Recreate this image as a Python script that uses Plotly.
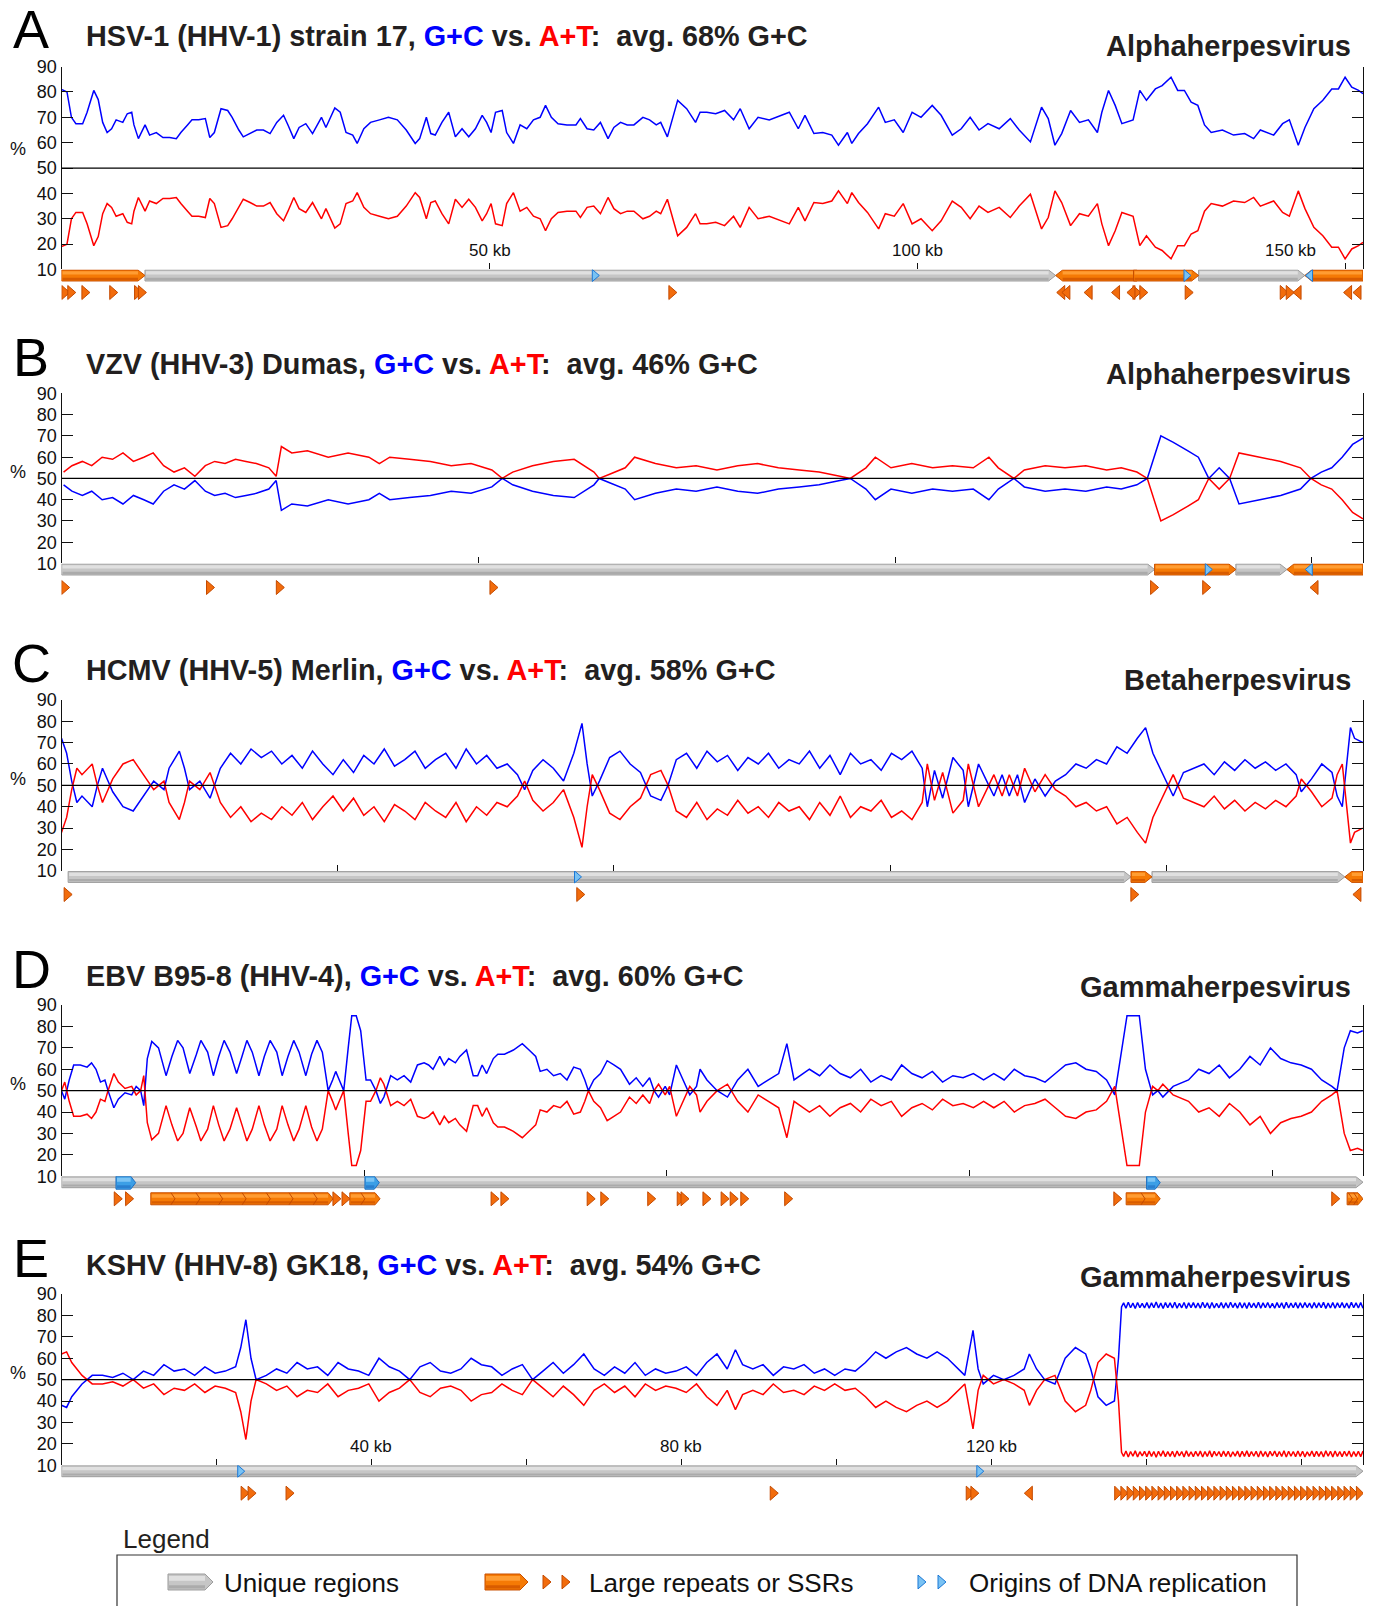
import plotly.graph_objects as go

# ======================= DATA =======================
# Genome lengths (kb)
A_LEN, B_LEN, C_LEN, D_LEN, E_LEN = 152.0, 124.9, 235.6, 172.0, 168.0

# ---- A: HSV-1 strain 17 (G+C %, sliding window) ----
A_pos = [0, 0.64, 1.16, 1.68, 2.47, 2.99, 3.77, 4.29, 4.81, 5.33, 5.85, 6.38, 7.16, 7.68, 8.2, 8.46, 8.98, 9.76,
         10.29, 11.07, 11.85, 12.63, 13.41, 13.94, 14.72, 15.24, 16.02, 16.8, 17.32, 17.85, 18.63, 19.41, 19.93,
         20.71, 21.23, 22.02, 22.8, 23.58, 24.36, 25.14, 25.93, 26.45, 27.13, 27.75, 28.53, 29.32, 30.36, 30.88,
         31.92, 32.55, 33.23, 34.01, 34.53, 35.31, 36.09, 37.14, 38.18, 39.22, 40.26, 41.31, 41.83, 42.61, 43.13,
         43.65, 44.43, 45.22, 46.0, 46.78, 47.56, 48.34, 49.13, 49.65, 50.17, 50.69, 51.47, 51.99, 52.78, 53.56,
         54.34, 55.12, 55.9, 56.53, 57.21, 57.99, 59.03, 60.08, 60.6, 61.38, 62.16, 62.94, 63.83, 64.51, 65.29,
         66.07, 66.85, 67.9, 68.68, 69.46, 69.98, 70.76, 71.96, 73.01, 74.05, 74.58, 75.36, 76.4, 77.44, 78.49,
         79.27, 80.31, 81.35, 82.66, 83.96, 85.0, 86.05, 86.83, 87.87, 88.91, 89.96, 90.74, 91.78, 92.3, 93.08,
         94.13, 95.43, 96.21, 97.26, 98.3, 99.34, 100.38, 101.69, 102.73, 104.03, 105.08, 106.12, 107.16, 108.2,
         109.51, 110.81, 111.85, 113.16, 114.46, 115.24, 116.02, 116.81, 117.85, 118.89, 119.93, 120.98, 121.5,
         122.28, 123.06, 123.84, 125.15, 125.93, 126.71, 127.75, 128.54, 129.58, 130.36, 131.14, 131.93, 132.71,
         133.49, 134.27, 135.58, 136.88, 138.18, 139.23, 140.01, 141.57, 142.61, 143.4, 144.44, 145.22, 146.26,
         147.31, 148.35, 149.13, 149.91, 150.69, 151.48, 152.0]
A_gc = [81, 80, 70, 67.5, 67.5, 72, 80.6, 77, 68, 64, 65.5, 69, 68, 71.4, 72, 67, 61.6, 67,
        63, 64, 62, 62, 61.6, 64, 67, 69, 69, 69.5, 62, 64, 73.4, 72.7, 70,
        65, 62.3, 63.6, 65, 65, 63.6, 68, 70.8, 67, 61.6, 66, 67.5, 63.6, 70, 66,
        73.7, 72, 64, 63, 59.7, 65.5, 68, 69, 70, 69, 65, 59.7, 61.6, 70, 63.6,
        63, 68, 72, 62.3, 65.5, 62.3, 65.5, 70.8, 68, 64, 72, 72.7, 64, 59.7, 67,
        65.5, 69, 70, 74.7, 70, 67.5, 67, 67, 69.5, 65.5, 65, 68, 61.6, 66, 68,
        67, 67, 70, 69, 67, 68, 62.3, 76.7, 73.4, 68, 72, 72, 71.4, 72.7, 69,
        73.4, 65.5, 70, 69, 70.8, 72, 65.5, 70.8, 63.6, 64, 63, 59, 64, 59.7, 63.6,
        67.5, 74, 68, 69, 64, 72, 70, 74.7, 70.8, 63, 65.5, 70, 65, 67.5,
        65.5, 69.5, 65, 60.3, 74, 69.5, 59, 63.6, 72.7, 68, 69, 64, 72,
        80.6, 74.7, 67.5, 69, 80.6, 76.7, 81.2, 82.5, 85.8, 80.6, 80.6, 76, 74.7,
        67, 64, 65, 63, 63.6, 61.6, 65, 63, 67.5, 69, 59, 66, 73.4,
        76.7, 81.2, 81.2, 85.8, 81.9, 80.6, 79.3]

# ---- B: VZV Dumas ----
B_pos = [0.2, 1.0, 2.0, 2.9, 3.9, 4.9, 5.9, 6.9, 7.9, 8.8, 9.8, 10.8, 11.8, 12.8, 13.8, 14.7, 15.7, 16.7, 17.7, 18.7,
         19.9, 20.6, 21.1, 22.1, 23.6, 25.6, 27.5, 29.5, 30.5, 31.5, 33.4, 35.4, 37.4, 39.3, 41.3, 42.3, 43.3, 45.2,
         47.2, 49.2, 51.1, 51.6, 52.6, 54.1, 55.0, 57.0, 59.0, 60.9, 62.9, 64.9, 66.8, 68.8, 70.8, 72.7, 74.7, 75.7,
         77.2, 78.1, 79.6, 81.6, 83.6, 85.5, 87.5, 89.0, 89.9, 91.4, 92.4, 94.4, 96.3, 98.3, 100.3, 101.7, 103.2,
         104.2, 105.5, 106.7, 108.1, 109.1, 110.1, 111.1, 112.1, 113.0, 115.0, 117.0, 118.9, 119.9, 120.9, 121.9,
         122.9, 123.9, 124.9]
B_gc = [47, 44, 42, 44, 40, 41, 38, 42, 40, 38, 44, 47, 45, 49, 44, 42, 43, 41, 42, 43,
        45, 49, 35, 38, 37, 40, 38, 40, 43, 40, 41, 42, 44, 43, 46, 50, 47, 44, 42, 41,
        47, 50, 48, 45, 40, 43, 45, 44, 46, 44, 43, 45, 46, 47, 49, 50, 45, 40, 45, 43,
        45, 44, 45, 40, 45, 50, 46, 44, 45, 44, 46, 45, 47, 50, 70, 67, 63, 60, 50, 55,
        50, 38, 40, 42, 45, 50, 53, 55, 60, 66, 69]

# ---- C: HCMV Merlin ----
C_pos = [0.0, 0.93, 1.85, 2.78, 3.71, 5.56, 6.49, 7.42, 9.27, 11.13, 12.98, 14.84, 16.69, 18.55, 19.47, 21.33, 22.26,
         23.18, 25.04, 26.89, 28.75, 30.6, 32.46, 34.31, 36.17, 38.02, 39.88, 41.73, 43.59, 45.44, 47.3, 49.15,
         51.01, 52.86, 54.72, 56.57, 58.43, 60.28, 62.14, 63.99, 65.84, 67.7, 69.55, 71.41, 73.26, 75.12, 76.97,
         78.83, 80.68, 82.54, 83.84, 85.32, 87.17, 89.03, 90.88, 92.74, 94.22, 95.15, 96.08, 97.38, 99.23, 101.09,
         102.94, 104.8, 106.65, 108.51, 109.8, 111.29, 113.14, 115.0, 116.85, 118.71, 120.56, 122.42, 124.27,
         126.13, 127.98, 129.84, 131.69, 133.54, 135.4, 137.25, 139.11, 140.96, 142.82, 144.67, 146.53, 148.38,
         150.24, 152.09, 153.95, 155.8, 156.73, 158.03, 159.51, 161.37, 163.22, 164.15, 166.0, 167.49, 168.79,
         170.27, 171.57, 173.05, 174.35, 176.21, 178.06, 179.92, 181.77, 183.63, 185.48, 187.34, 189.19, 191.05,
         192.9, 194.75, 196.24, 197.57, 199.39, 201.24, 203.1, 204.95, 206.81, 208.66, 210.52, 212.37, 214.23,
         216.08, 217.94, 219.79, 221.65, 223.5, 224.43, 226.28, 228.14, 229.99, 230.92, 231.85, 233.33, 234.07,
         235.55]
C_gc = [72, 65, 52, 42, 45, 40, 50, 58, 47, 40, 38, 45, 52, 48, 58, 66, 58,
        48, 52, 44, 58, 65, 60, 67, 63, 66, 60, 64, 58, 66, 60, 55,
        62, 56, 64, 60, 67, 59, 62, 66, 58, 62, 65, 58, 67, 60, 64,
        58, 60, 55, 48, 57, 62, 58, 52, 65, 79, 60, 45, 52, 63, 66,
        60, 56, 45, 43, 50, 62, 65, 58, 66, 61, 64, 57, 63,
        60, 65, 58, 62, 60, 66, 58, 64, 55, 65, 60, 62, 57,
        65, 62, 66, 58, 40, 57, 44, 63, 57, 40, 60, 52, 45,
        55, 45, 55, 42, 53, 45, 52, 55, 60, 58, 62, 60, 68,
        65, 72, 77, 65, 55, 45, 56, 58, 60, 55, 61, 57, 62,
        58, 61, 57, 60, 55, 47, 53, 60, 56, 45, 40, 77, 72,
        70]

# ---- D: EBV B95-8 ----
D_pos = [0.0, 0.43, 1.02, 1.61, 2.49, 3.38, 3.97, 4.56, 5.15, 5.74, 6.15, 6.92, 7.51, 8.39, 9.28, 9.87, 10.46, 10.87,
         11.34, 11.93, 12.82, 13.41, 13.82, 14.59, 15.35, 16.06, 16.95, 17.83, 18.42, 19.31, 20.07, 20.78, 21.49,
         22.26, 23.14, 23.85, 24.5, 25.21, 26.09, 26.8, 27.57, 28.45, 29.16, 29.93, 30.69, 31.4, 32.29, 33.05,
         33.76, 34.47, 35.24, 35.83, 36.24, 36.71, 37.3, 37.89, 38.36, 38.95, 39.54, 40.25, 40.84, 41.55, 42.14,
         42.61, 43.5, 44.38, 45.27, 46.15, 47.04, 47.92, 48.51, 49.1, 49.99, 50.58, 51.17, 52.05, 52.64, 53.53,
         54.41, 55.0, 55.59, 56.18, 57.07, 57.66, 58.54, 59.72, 60.9, 61.79, 62.67, 63.26, 64.15, 65.03, 65.92,
         66.8, 67.69, 68.57, 69.16, 69.63, 70.34, 71.23, 72.11, 73.0, 73.88, 75.06, 75.95, 76.83, 77.72, 78.31,
         78.9, 79.78, 80.37, 81.26, 82.14, 83.03, 83.92, 84.39, 85.3, 86.65, 88.01, 89.36, 90.71, 92.07, 93.42,
         94.78, 95.86, 96.81, 98.84, 100.19, 101.55, 102.9, 104.26, 105.61, 106.96, 108.32, 109.67, 111.03,
         112.38, 113.73, 115.09, 116.44, 117.8, 119.15, 120.51, 121.86, 123.21, 124.57, 125.92, 127.28, 128.63,
         129.98, 131.34, 132.69, 134.05, 135.4, 136.75, 138.11, 139.19, 140.14, 140.81, 142.44, 143.25, 144.2,
         144.88, 145.55, 146.91, 148.94, 150.29, 151.65, 153.0, 154.35, 155.71, 157.06, 158.41, 159.77, 161.12,
         162.48, 163.83, 165.19, 166.54, 167.89, 168.57, 169.52, 170.33, 171.28, 171.96]
D_gc = [50, 46, 55, 62, 62, 61, 63, 60, 54, 55, 50, 42, 46, 49, 48, 52, 50, 43,
        65, 73, 70, 62, 57, 66, 73.5, 70, 58, 67, 73.5, 68, 57, 66, 73.5,
        68, 58, 66, 73.5, 68, 57, 66, 73.5, 68, 57, 66, 73.5, 68, 57, 67,
        73.5, 68, 50, 55, 59, 55, 50, 70, 85, 85, 78, 55, 55, 50, 44,
        47, 57, 55, 57, 54, 62, 63, 62, 60, 66, 62, 65, 63, 66, 69,
        57, 57, 62, 58, 65, 67, 67, 69, 72, 69, 66, 59, 60, 57, 58,
        55, 61, 60, 55, 50, 55, 58, 64, 62, 60, 53, 56, 52, 56, 50,
        47, 52, 48, 62, 55, 48, 52, 60, 55, 50, 47, 55, 60, 52, 55,
        58, 72, 55, 60, 57, 62, 58, 56, 60, 54, 57, 55, 62,
        58, 56, 59, 54, 57, 56, 58, 55, 58, 55, 60, 57, 56,
        54, 58, 62, 63, 60, 59, 55, 48, 70, 85, 85, 60, 48,
        50, 47, 52, 55, 60, 58, 62, 56, 60, 66, 62, 70, 65,
        63, 62, 60, 55, 52, 50, 70, 78, 77, 78]

# ---- E: KSHV GK18 (unique region, then terminal repeats) ----
E_pos = [0.0, 0.66, 1.32, 2.65, 3.97, 5.29, 6.61, 7.93, 9.26, 10.58, 11.9, 13.22, 14.54, 15.87, 17.19, 18.51, 19.83,
         21.15, 22.48, 23.14, 23.8, 24.46, 25.12, 26.44, 27.76, 29.09, 30.41, 31.73, 33.05, 34.37, 35.7, 37.02,
         38.34, 39.66, 40.98, 42.31, 43.63, 44.95, 46.27, 47.59, 48.92, 50.24, 51.56, 52.88, 54.2, 55.53, 56.85,
         58.17, 59.49, 60.81, 62.14, 63.46, 64.78, 66.1, 67.42, 68.75, 70.07, 71.39, 72.71, 74.03, 75.36, 76.68,
         78.0, 79.32, 80.64, 81.97, 83.29, 84.61, 85.93, 86.99, 87.92, 89.24, 90.56, 91.88, 93.2, 94.53, 95.85,
         97.17, 98.49, 99.81, 101.14, 102.46, 103.78, 105.1, 106.42, 107.75, 109.07, 110.39, 111.71, 113.03,
         114.36, 115.68, 116.6, 117.66, 118.32, 118.98, 120.3, 121.63, 122.95, 124.27, 124.93, 125.86, 126.91,
         128.24, 129.56, 130.88, 132.2, 132.86, 133.79, 134.85, 135.91, 136.44, 136.83]
E_gc = [38, 37, 42, 48, 52, 52, 51, 53, 50, 54, 52, 57, 54, 55, 52, 56, 53,
        54, 56, 65, 78, 60, 50, 52, 55, 53, 58, 55, 56, 52, 58, 55,
        54, 52, 60, 56, 54, 50, 56, 58, 54, 53, 55, 60, 57, 56, 52,
        55, 57, 50, 54, 58, 53, 57, 62, 55, 52, 56, 53, 58, 52, 55,
        53, 54, 56, 52, 58, 62, 55, 64, 57, 55, 57, 52, 56, 55, 57,
        53, 55, 52, 55, 54, 58, 63, 60, 63, 65, 62, 60, 63,
        60, 55, 52, 73, 55, 48, 52, 50, 52, 55, 62, 55, 50,
        48, 60, 65, 62, 55, 42, 38, 40, 60, 84]
E_TR_pos = [137.1, 137.4, 137.7, 138.0, 138.3, 138.6, 138.9, 139.2, 139.5, 139.8,
            140.1, 140.4, 140.7, 141.0, 141.3, 141.6, 141.9, 142.2, 142.5, 142.8,
            143.1, 143.4, 143.7, 144.0, 144.3, 144.6, 144.9, 145.2, 145.5, 145.8,
            146.1, 146.4, 146.7, 147.0, 147.3, 147.6, 147.9, 148.2, 148.5, 148.8,
            149.1, 149.4, 149.7, 150.0, 150.3, 150.6, 150.9, 151.2, 151.5, 151.8,
            152.1, 152.4, 152.7, 153.0, 153.3, 153.6, 153.9, 154.2, 154.5, 154.8,
            155.1, 155.4, 155.7, 156.0, 156.3, 156.6, 156.9, 157.2, 157.5, 157.8,
            158.1, 158.4, 158.7, 159.0, 159.3, 159.6, 159.9, 160.2, 160.5, 160.8,
            161.1, 161.4, 161.7, 162.0, 162.3, 162.6, 162.9, 163.2, 163.5, 163.8,
            164.1, 164.4, 164.7, 165.0, 165.3, 165.6, 165.9, 166.2, 166.5, 166.8,
            167.1, 167.4, 167.7, 168.0]
E_TR_gc = [85.9, 83.4, 86.2, 83.6, 85.8, 83.3, 86.1, 83.7, 85.7, 83.5,
           86.0, 83.4, 85.9, 83.6, 86.3, 83.5, 85.8, 83.3, 86.0, 83.6,
           85.9, 83.5, 86.2, 83.4, 85.7, 83.6, 86.1, 83.3, 85.9, 83.7,
           86.0, 83.5, 85.8, 83.4, 86.2, 83.6, 85.9, 83.3, 86.1, 83.5,
           85.7, 83.6, 86.0, 83.4, 85.9, 83.5, 86.2, 83.7, 85.8, 83.4,
           86.1, 83.5, 85.9, 83.3, 86.0, 83.6, 85.8, 83.5, 86.2, 83.4,
           85.9, 83.6, 86.1, 83.5, 85.7, 83.4, 86.0, 83.6, 85.9, 83.3,
           86.2, 83.5, 85.8, 83.6, 86.0, 83.4, 85.9, 83.5, 86.1, 83.7,
           85.8, 83.4, 86.0, 83.5, 85.9, 83.6, 86.2, 83.3, 85.8, 83.5,
           86.1, 83.4, 85.9, 83.6, 86.0, 83.5, 85.8, 83.4, 86.2, 83.6,
           85.9, 83.5, 86.0, 83.4]

# ---- axis ticks (kb) ----
A_ticks, A_ticklabels = [50, 100, 150], ["50 kb", "100 kb", "150 kb"]
B_ticks, B_ticklabels = [40, 80, 120], []
C_ticks, C_ticklabels = [50, 100, 150, 200], []
D_ticks, D_ticklabels = [40, 80, 120, 160], []
E_ticks = [20, 40, 60, 80, 100, 120, 140, 160]
E_ticklabels = ["", "40 kb", "", "80 kb", "", "120 kb", "", ""]

# ---- genome maps (kb): (start, end, direction) ----
A_unique = [(9.75, 116.1, "R"), (132.8, 145.2, "R")]
A_repeats = [(0, 9.75, "R"), (116.1, 125.6, "L"), (125.2, 132.8, "R"), (145.2, 152.0, "L")]
A_origins = [(62.4, "R"), (131.5, "R"), (145.7, "L")]
A_ssr_right = [0.5, 1.2, 2.85, 6.1, 9.0, 9.45, 71.4, 125.6, 126.4, 131.7, 142.8, 143.5]
A_ssr_left = [116.7, 117.3, 119.9, 123.1, 124.9, 144.3, 150.2, 151.3]

B_unique = [(0, 104.9, "R"), (112.7, 117.6, "R")]
B_repeats = [(104.9, 112.7, "R"), (117.6, 124.9, "L")]
B_origins = [(110.1, "R"), (119.7, "L")]
B_ssr_right = [0.4, 14.3, 21.0, 41.5, 104.9, 109.9]
B_ssr_left = [120.2]

C_unique = [(1.2, 193.6, "R"), (197.4, 232.3, "R")]
C_repeats = [(193.6, 197.4, "R"), (232.3, 235.6, "L")]
C_origins = [(93.5, "R")]
C_ssr_right = [1.2, 94.0, 194.3]
C_ssr_left = [234.5]

D_unique = [(0, 172.0, "R")]
D_repeats = []
D_origins = []
D_origin_boxes = [(7.2, 9.8), (40.1, 42.0), (143.4, 145.2)]
D_repeat_boxes = [(11.8, 35.9, [15.0, 18.3, 21.3, 24.4, 27.6, 30.6, 33.8]),
                  (38.1, 42.1, [40.1]),
                  (140.7, 145.2, [143.2]),
                  (169.9, 172.0, [170.6, 171.3])]
D_ssr_right = [7.5, 9.0, 36.4, 37.6, 57.3, 58.6, 70.0, 71.8, 78.0, 81.9, 82.4, 85.3, 87.7, 88.9, 90.3, 96.1,
               139.6, 168.4]
D_ssr_left = []

E_unique = [(0, 168.0, "R")]
E_repeats = []
E_origins = [(23.2, "R"), (118.6, "R")]
E_ssr_right = [23.7, 24.6, 29.5, 92.0, 117.3, 117.9]
E_tr_units = [136.4, 137.2, 138.0, 138.8, 139.6, 140.4, 141.2, 142.0, 142.8, 143.6, 144.4, 145.2, 146.0, 146.8,
              147.6, 148.4, 149.2, 150.0, 150.8, 151.6, 152.4, 153.2, 154.0, 154.8, 155.6, 156.4, 157.2, 158.0,
              158.8, 159.6, 160.4, 161.2, 162.0, 162.8, 163.6, 164.4, 165.2, 166.0, 166.8, 167.6]
E_ssr_left = [124.8]

# ---- text ----
letters = ["A", "B", "C", "D", "E"]
names = ["HSV-1 (HHV-1) strain 17", "VZV (HHV-3) Dumas", "HCMV (HHV-5) Merlin",
         "EBV B95-8 (HHV-4)", "KSHV (HHV-8) GK18"]
avgs = [68, 46, 58, 60, 54]
groups = ["Alphaherpesvirus", "Alphaherpesvirus", "Betaherpesvirus", "Gammaherpesvirus", "Gammaherpesvirus"]
legend_labels = ["Unique regions", "Large repeats or SSRs", "Origins of DNA replication"]

# ======================= LAYOUT / STYLE =======================
W, H = 1374, 1606
X0, X1 = 61.5, 1363.0
# vertical calibration of the capture (observed = OFF + SC * layout)
Y_OFF, Y_SC = 10.0, 0.98755
FONT = "Liberation Sans, Arial, Helvetica, sans-serif"
TXT = "#231f20"
PANEL_PX = [(66.6, 269.5), (393.4, 563.5), (699.8, 870.9), (1005.1, 1176.2), (1294.1, 1465.2)]
TRI_OFF = [23, 24, 23.6, 22.6, 28]
LETTER_Y = [28.7, 356.6, 663, 969, 1258]
TITLE_Y = [35.9, 363.7, 670, 976.4, 1265.4]
GROUP_Y = [46, 374, 680, 986.7, 1276.6]
PCT_Y = [148.6, 472, 779, 1084, 1373]

GREY = ("#c6c6c6", "#e0e0e0", "#ababab", "#9c9c9c")
ORANGE = ("#f57a05", "#ff9d33", "#d85c00", "#c84f00")
BLUEBOX = ("#3c9fe6", "#7cc4f4", "#2a7fcf", "#1f6fc0")
TRI_OR = ("#f26c0c", "#c44a00")
TRI_BL = ("#79c2f3", "#1c78d6")


def fx(px):
    return px / W


def fy(py):
    return 1 - ((py - Y_OFF) / Y_SC) / H


def path_str(pts):
    return "M" + " L".join(f"{x:.5f},{y:.5f}" for x, y in pts) + " Z"


def shaded_arrow(shapes, xref, yref, x0, x1, y0, y1, tip, d, pal, eps):
    ym = (y0 + y1) / 2
    if d == "R":
        pts = [(x0, y0), (x1 - tip, y0), (x1, ym), (x1 - tip, y1), (x0, y1)]
        bx0, bx1 = x0 + eps, x1 - tip
    else:
        pts = [(x0 + tip, y0), (x1, y0), (x1, y1), (x0 + tip, y1), (x0, ym)]
        bx0, bx1 = x0 + tip, x1 - eps
    h = y1 - y0
    shapes.append(dict(type="path", xref=xref, yref=yref, path=path_str(pts),
                       fillcolor=pal[0], line=dict(color=pal[3], width=1)))
    if bx1 > bx0:
        shapes.append(dict(type="rect", xref=xref, yref=yref, x0=bx0, x1=bx1, y0=y0 + 0.12 * h, y1=y0 + 0.42 * h,
                           fillcolor=pal[1], line=dict(width=0)))
        shapes.append(dict(type="rect", xref=xref, yref=yref, x0=bx0, x1=bx1, y0=y0 + 0.7 * h, y1=y0 + 0.9 * h,
                           fillcolor=pal[2], line=dict(width=0)))


def triangle(shapes, xref, yref, xc, yc, w, h, d, col):
    if d == "R":
        pts = [(xc - w / 2, yc - h / 2), (xc + w / 2, yc), (xc - w / 2, yc + h / 2)]
    else:
        pts = [(xc + w / 2, yc - h / 2), (xc - w / 2, yc), (xc + w / 2, yc + h / 2)]
    shapes.append(dict(type="path", xref=xref, yref=yref, path=path_str(pts),
                       fillcolor=col[0], line=dict(color=col[1], width=1)))


panels = [
    dict(L=A_LEN, pos=A_pos, gc=A_gc, ticks=A_ticks, tl=A_ticklabels, uni=A_unique, rep=A_repeats,
         ori=A_origins, sr=A_ssr_right, sl=A_ssr_left),
    dict(L=B_LEN, pos=B_pos, gc=B_gc, ticks=B_ticks, tl=B_ticklabels, uni=B_unique, rep=B_repeats,
         ori=B_origins, sr=B_ssr_right, sl=B_ssr_left),
    dict(L=C_LEN, pos=C_pos, gc=C_gc, ticks=C_ticks, tl=C_ticklabels, uni=C_unique, rep=C_repeats,
         ori=C_origins, sr=C_ssr_right, sl=C_ssr_left),
    dict(L=D_LEN, pos=D_pos, gc=D_gc, ticks=D_ticks, tl=D_ticklabels, uni=D_unique, rep=D_repeats,
         ori=D_origins, sr=D_ssr_right, sl=D_ssr_left, oboxes=D_origin_boxes, rboxes=D_repeat_boxes),
    dict(L=E_LEN, pos=E_pos + E_TR_pos, gc=E_gc + E_TR_gc, ticks=E_ticks, tl=E_ticklabels, uni=E_unique,
         rep=E_repeats, ori=E_origins, sr=E_ssr_right, sl=E_ssr_left, tr=E_tr_units),
]

fig = go.Figure()
shapes, annotations, layout_axes = [], [], {}

for i, p in enumerate(panels):
    n = i + 1
    xname = "xaxis" if n == 1 else f"xaxis{n}"
    yname = "yaxis" if n == 1 else f"yaxis{n}"
    xr = "x" if n == 1 else f"x{n}"
    yr = "y" if n == 1 else f"y{n}"
    ymname = f"yaxis{n + 5}"
    ym = f"y{n + 5}"
    top, bot = PANEL_PX[i]
    L = p["L"]
    kbpp = L / (X1 - X0)

    at = [100 - v for v in p["gc"]]
    fig.add_trace(go.Scatter(x=p["pos"], y=p["gc"], mode="lines", line=dict(color="#0000ff", width=1.5),
                             xaxis=xr, yaxis=yr, hoverinfo="skip", showlegend=False))
    fig.add_trace(go.Scatter(x=p["pos"], y=at, mode="lines", line=dict(color="#ff0000", width=1.5),
                             xaxis=xr, yaxis=yr, hoverinfo="skip", showlegend=False))
    fig.add_trace(go.Scatter(x=[0], y=[0], mode="markers", marker=dict(opacity=0), xaxis=xr, yaxis=ym,
                             hoverinfo="skip", showlegend=False))

    layout_axes[xname] = dict(domain=[fx(X0), fx(X1)], range=[0, L], anchor=yr, showline=False, showgrid=False,
                              zeroline=False, ticks="inside", ticklen=6, tickwidth=1, tickcolor="#111",
                              tickvals=p["ticks"], showticklabels=False, fixedrange=True)
    layout_axes[yname] = dict(domain=[fy(bot), fy(top)], range=[10, 90], anchor=xr, showline=True,
                              linecolor="#111", linewidth=1.2, mirror="ticks", ticks="inside", ticklen=11,
                              tickwidth=1, tickcolor="#111", tickvals=[10, 20, 30, 40, 50, 60, 70, 80, 90],
                              showgrid=False, zeroline=False,
                              tickfont=dict(family=FONT, size=18, color="#111"), fixedrange=True)
    layout_axes[ymname] = dict(domain=[fy(bot + 42), fy(bot)], range=[42, 0], anchor=xr, visible=False,
                               fixedrange=True)

    shapes.append(dict(type="line", xref=xr, yref=yr, x0=0, x1=L, y0=50, y1=50, line=dict(color="#000", width=1.3)))

    for t, lab in zip(p["ticks"], p["tl"]):
        if lab:
            last = (t == p["ticks"][-1] and t > 0.95 * L)
            annotations.append(dict(xref=xr, yref=yr, x=t, y=10, yanchor="bottom",
                                    xanchor="right" if last else "center", xshift=-28 if last else 0, yshift=7,
                                    text=lab, showarrow=False, font=dict(family=FONT, size=17, color="#111")))

    # genome map
    tip = 7 * kbpp
    eps = 1.0 * kbpp
    for s, e, d in p["uni"]:
        shaded_arrow(shapes, xr, ym, s, e, 0.5, 11.5, tip, d, GREY, eps)
    for s, e, d in p["rep"]:
        shaded_arrow(shapes, xr, ym, s, e, 0.5, 11.5, tip, d, ORANGE, eps)
    for s, e in p.get("oboxes", []):
        shaded_arrow(shapes, xr, ym, s, e, 0.0, 13.0, 5 * kbpp, "R", BLUEBOX, eps)
    for c, d in p["ori"]:
        triangle(shapes, xr, ym, c, 6.0, 7 * kbpp, 12, d, TRI_BL)
    ty = TRI_OFF[i]
    for s, e, divs in p.get("rboxes", []):
        shaded_arrow(shapes, xr, ym, s, e, ty - 6, ty + 6, 5 * kbpp, "R", ORANGE, eps)
        for dv in divs:
            shapes.append(dict(type="path", xref=xr, yref=ym,
                               path=f"M{dv - 4 * kbpp:.4f},{ty - 6} L{dv:.4f},{ty} L{dv - 4 * kbpp:.4f},{ty + 6}",
                               line=dict(color="#c44a00", width=1)))
    for c in p["sr"]:
        triangle(shapes, xr, ym, c, ty, 8 * kbpp, 14, "R", TRI_OR)
    for c in p.get("tr", []):
        triangle(shapes, xr, ym, c, ty, 7 * kbpp, 14, "R", TRI_OR)
    for c in p["sl"]:
        triangle(shapes, xr, ym, c, ty, 8 * kbpp, 14, "L", TRI_OR)

    # texts
    annotations.append(dict(xref="paper", yref="paper", x=fx(31), y=fy(LETTER_Y[i]), xanchor="center",
                            yanchor="middle", text=letters[i], showarrow=False,
                            font=dict(family=FONT, size=54, color="#000")))
    title = (f"<b>{names[i]}, <span style='color:#0000ff'>G+C</span> vs. "
             f"<span style='color:#ff0000'>A+T</span>:\u00a0\u00a0avg. {avgs[i]}% G+C</b>")
    annotations.append(dict(xref="paper", yref="paper", x=fx(84), y=fy(TITLE_Y[i]), xanchor="left",
                            yanchor="middle", text=title, showarrow=False,
                            font=dict(family=FONT, size=28.8, color=TXT)))
    annotations.append(dict(xref="paper", yref="paper", x=fx(1352.5), y=fy(GROUP_Y[i]), xanchor="right",
                            yanchor="middle", text=f"<b>{groups[i]}</b>", showarrow=False,
                            font=dict(family=FONT, size=29, color=TXT)))
    annotations.append(dict(xref="paper", yref="paper", x=fx(17.5), y=fy(PCT_Y[i]), xanchor="center",
                            yanchor="middle", text="%", showarrow=False,
                            font=dict(family=FONT, size=18, color="#111")))

# ---- legend ----
annotations.append(dict(xref="paper", yref="paper", x=fx(121), y=fy(1539), xanchor="left", yanchor="middle",
                        text="Legend", showarrow=False, font=dict(family=FONT, size=26, color=TXT)))
shapes.append(dict(type="rect", xref="paper", yref="paper", x0=fx(117), x1=fx(1297), y0=fy(1555), y1=fy(1640),
                   line=dict(color="#333", width=1.2), fillcolor="rgba(0,0,0,0)"))
shaded_arrow(shapes, "paper", "paper", fx(168), fx(213), fy(1574), fy(1590), 8 / W, "R", GREY, 1 / W)
shaded_arrow(shapes, "paper", "paper", fx(485), fx(528), fy(1574), fy(1590), 8 / W, "R", ORANGE, 1 / W)
for cx in (547, 566):
    triangle(shapes, "paper", "paper", fx(cx), fy(1582), 8 / W, -14 / H, "R", TRI_OR)
for cx in (922, 942):
    triangle(shapes, "paper", "paper", fx(cx), fy(1582), 8 / W, -14 / H, "R", TRI_BL)
for lx, lab in zip((222, 587, 967), legend_labels):
    annotations.append(dict(xref="paper", yref="paper", x=fx(lx), y=fy(1583), xanchor="left", yanchor="middle",
                            text=lab, showarrow=False, font=dict(family=FONT, size=26, color="#111")))

fig.update_layout(width=W, height=H, autosize=False, margin=dict(l=0, r=0, t=0, b=0),
                  paper_bgcolor="white", plot_bgcolor="white", showlegend=False,
                  shapes=shapes, annotations=annotations, **layout_axes)
fig.write_html("out.html", config={"displayModeBar": False},
               post_script="document.body.style.margin='0';document.body.style.overflow='hidden';")
